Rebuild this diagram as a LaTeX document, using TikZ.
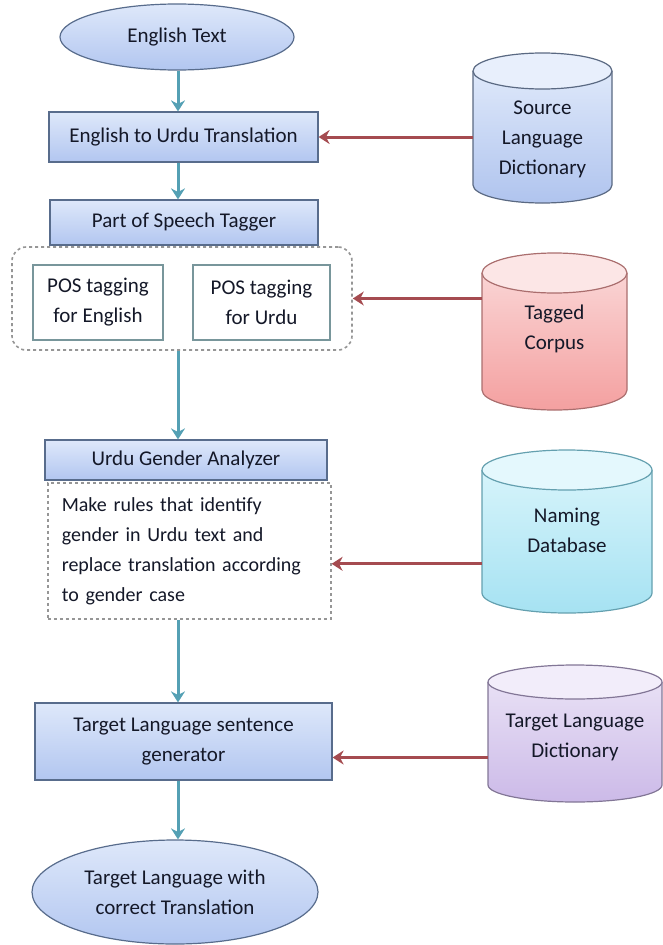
\documentclass[tikz,border=0pt]{standalone}
\usepackage{fontspec}
\setmainfont{Carlito}
\usetikzlibrary{shapes.geometric,arrows.meta}
\definecolor{txtcol}{RGB}{20,24,40}
\definecolor{boxline}{RGB}{88,108,140}
\definecolor{boxtop}{RGB}{222,232,250}
\definecolor{boxbot}{RGB}{178,198,240}
\definecolor{grpline}{RGB}{150,150,150}
\definecolor{subline}{RGB}{120,150,155}
\definecolor{tealc}{RGB}{84,160,180}
\definecolor{redc}{RGB}{165,75,80}
\definecolor{srctop}{RGB}{222,232,250}
\definecolor{srcbot}{RGB}{176,196,238}
\definecolor{srccap}{RGB}{232,239,252}
\definecolor{srcline}{RGB}{90,105,130}
\definecolor{tagtop}{RGB}{250,212,212}
\definecolor{tagbot}{RGB}{244,160,160}
\definecolor{tagcap}{RGB}{252,230,230}
\definecolor{tagline}{RGB}{170,110,110}
\definecolor{namtop}{RGB}{214,244,251}
\definecolor{nambot}{RGB}{166,226,242}
\definecolor{namcap}{RGB}{228,248,253}
\definecolor{namline}{RGB}{100,160,175}
\definecolor{tdtop}{RGB}{232,224,245}
\definecolor{tdbot}{RGB}{204,186,232}
\definecolor{tdcap}{RGB}{242,237,250}
\definecolor{tdline}{RGB}{130,118,150}
\newcommand\mycyl[6]{%
  \shade[top color=#6top, bottom color=#6bot]
    (#1-#4,#2+#5) -- (#1-#4,#3-#5)
    arc[start angle=180,end angle=0,x radius=#4,y radius=#5]
    -- (#1+#4,#2+#5) -- cycle;
  \draw[#6line, line width=1.2pt]
    (#1-#4,#2+#5) -- (#1-#4,#3-#5)
    arc[start angle=180,end angle=0,x radius=#4,y radius=#5]
    -- (#1+#4,#2+#5);
  \draw[#6line, line width=1.2pt, fill=#6cap] (#1,#2+#5) ellipse [x radius=#4, y radius=#5];
}
\begin{document}
\begin{tikzpicture}[x=1pt,y=-1pt,
  txt/.style={font=\fontsize{21}{30}\selectfont, text=txtcol},
  flowbox/.style={draw=boxline, line width=1.2pt, top color=boxtop, bottom color=boxbot, txt, inner sep=0pt, align=center},
  groupbox/.style={draw=grpline, dashed, line width=1.6pt, fill=white, txt, inner sep=0pt},
  subbox/.style={draw=subline, line width=1.2pt, fill=white, txt, inner sep=0pt, align=center},
  tealarrow/.style={draw=tealc, line width=3pt, -{Stealth[length=11pt,width=14pt]}},
  redarrow/.style={draw=redc, line width=3pt, -{Stealth[length=11pt,width=14pt]}},
  cyltext/.style={txt, align=center, inner sep=0pt}
]
\useasboundingbox (0,0) rectangle (663,945);

% column for the main flow
\coordinate (col) at (178,0);

% main flow
\node[ellipse, flowbox, minimum width=234, minimum height=66] (english) at (177,37) {English Text};
\node[flowbox, minimum width=269, minimum height=50] (trans) at (183.5,137) {English to Urdu Translation};
\node[groupbox, rounded corners=14pt, minimum width=340, minimum height=103] (posgroup) at (182,298.5) {};
\node[flowbox, minimum width=268, minimum height=45] (postag) at (184,222.5) {Part of Speech Tagger};
\node[subbox, minimum width=130, minimum height=75] (posen) at (98,302.5) {POS tagging\\for English};
\node[subbox, minimum width=137, minimum height=75] (posur) at (261.5,302.5) {POS tagging\\for Urdu};
\node[groupbox, font=\fontsize{20}{30}\selectfont, minimum width=283, minimum height=136, text width=255, inner xsep=14pt, align=left, anchor=north west] (rules) at (47,482)
  {Make rules that identify\\gender in Urdu text and\\replace translation according\\to gender case};
\node[flowbox, minimum width=282, minimum height=40] (gender) at (186,460) {Urdu Gender Analyzer};
\node[flowbox, minimum width=297, minimum height=77] (tgen) at (183.5,741.5) {Target Language sentence\\generator};
\node[ellipse, flowbox, minimum width=286, minimum height=104] (final) at (175,892) {Target Language with\\correct Translation};

% databases
\mycyl{542.5}{53}{203}{69.5}{18}{src}
\node[cyltext, minimum width=139] (srcdict) at (542.5,139) {Source\\Language\\Dictionary};
\mycyl{554.5}{253}{410}{72.5}{20}{tag}
\node[cyltext, minimum width=145] (corpus) at (554.5,329) {Tagged\\Corpus};
\mycyl{567}{450}{613}{85}{20}{nam}
\node[cyltext, minimum width=170] (naming) at (567,530) {Naming\\Database};
\mycyl{575}{665}{802}{87}{17}{td}
\node[cyltext, minimum width=174] (tdict) at (575,737) {Target Language\\Dictionary};

% flow arrows
\draw[tealarrow] (col |- english.south) -- (col |- trans.north);
\draw[tealarrow] (col |- trans.south) -- (col |- postag.north);
\draw[tealarrow] (col |- posgroup.south) -- (col |- gender.north);
\draw[tealarrow] (col |- rules.south) -- (col |- tgen.north);
\draw[tealarrow] (col |- tgen.south) -- (col |- final.north);

% resource arrows
\coordinate (rin) at ([yshift=-13pt]rules.east);
\coordinate (tin) at ([yshift=-16pt]tgen.east);
\draw[redarrow] (srcdict.west |- trans.east) -- (trans.east);
\draw[redarrow] (corpus.west |- posgroup.east) -- (posgroup.east);
\draw[redarrow] (naming.west |- rin) -- (rin);
\draw[redarrow] (tdict.west |- tin) -- (tin);
\end{tikzpicture}
\end{document}
